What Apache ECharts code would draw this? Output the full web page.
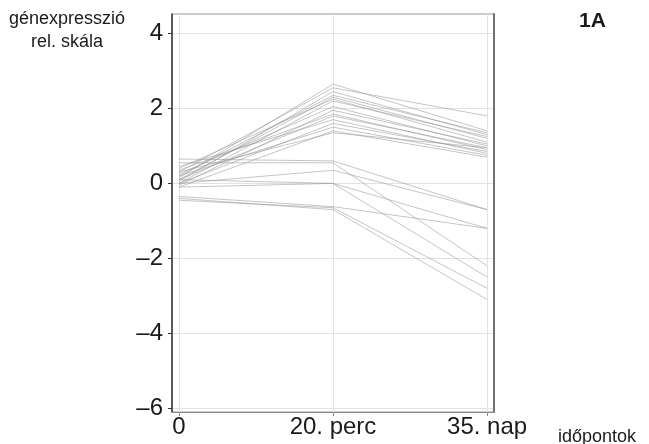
<!DOCTYPE html>
<html>
<head>
<meta charset="utf-8">
<script src="https://cdn.jsdelivr.net/npm/echarts@6/dist/echarts.min.js"></script>
<style>
  html, body { margin: 0; padding: 0; background: #fff; }
  #chart { width: 649px; height: 444px; }
</style>
</head>
<body>
<div id="chart"></div>
<script>
// időpontok (x categories)
const categories = ['0', '20. perc', '35. nap'];

// y tick labels
const yTicks = [-6, -4, -2, 0, 2, 4];

// génexpresszió per gene at each time point (one entry per line)
const expr0 = [
  0.15, 0.30, 0.05, 0.20, 0.10, 0.40, 0.00, 0.25,
  -0.05, 0.35, 0.10, 0.45, 0.00, 0.20, -0.10, 0.30,
  0.65, 0.55, 0.00, -0.10, 0.10, -0.35, -0.45, -0.40
];
const expr20perc = [
  2.65, 2.55, 2.45, 2.35, 2.30, 2.25, 2.20, 2.05,
  1.95, 1.85, 1.80, 1.70, 1.60, 1.50, 1.40, 1.35,
  0.60, 0.55, 0.35, 0.00, 0.00, -0.62, -0.65, -0.70
];
const expr35nap = [
  1.40, 1.80, 1.30, 1.35, 1.20, 1.10, 1.25, 1.00,
  1.05, 0.90, 0.95, 0.80, 0.85, 0.75, 0.70, 0.95,
  -0.70, -2.20, -0.70, -1.20, -2.50, -1.20, -2.80, -3.10
];

const series = expr0.map((v, i) => ({
  type: 'line',
  data: [[0, v], [1, expr20perc[i]], [2, expr35nap[i]]],
  showSymbol: false,
  silent: true,
  lineStyle: { color: 'rgba(150,150,150,0.55)', width: 1 }
}));

const chart = echarts.init(document.getElementById('chart'));

const labelFont = 'Liberation Sans, Arial, sans-serif';

chart.setOption({
  animation: false,
  grid: {
    left: 172, right: 155, top: 14, bottom: 32,
    show: true, borderColor: '#9a9a9a', borderWidth: 1
  },
  xAxis: {
    type: 'value',
    min: -0.045,
    max: 2.045,
    axisLine: { show: true, onZero: false, lineStyle: { color: '#8a8a8a', width: 1 } },
    axisTick: { show: true, length: 4, customValues: [0, 1, 2], lineStyle: { color: '#8a8a8a' } },
    axisLabel: {
      customValues: [0, 1, 2],
      formatter: v => categories[Math.round(v)],
      color: '#1a1a1a', fontSize: 24, fontFamily: labelFont, margin: 3
    },
    splitLine: { show: true, lineStyle: { color: '#e2e2e2', width: 1 } }
  },
  yAxis: [
    {
      type: 'value',
      min: -6.1,
      max: 4.52,
      axisLine: { show: true, onZero: false, lineStyle: { color: '#333', width: 1.5 } },
      axisTick: { show: true, length: 4, customValues: yTicks, lineStyle: { color: '#333' } },
      axisLabel: {
        customValues: yTicks,
        formatter: v => String(v).replace('-', '\u2013'),
        color: '#1a1a1a', fontSize: 24, fontFamily: labelFont, margin: 9
      },
      splitLine: { show: true, lineStyle: { color: '#e2e2e2', width: 1 } }
    },
    {
      type: 'value',
      position: 'right',
      min: -6.1,
      max: 4.52,
      axisLine: { show: true, onZero: false, lineStyle: { color: '#707070', width: 2 } },
      axisTick: { show: false },
      axisLabel: { show: false },
      splitLine: { show: false }
    }
  ],
  series: series,
  graphic: [
    { type: 'text', left: 9, top: 10, style: { text: 'génexpresszió', fontSize: 18, fontFamily: labelFont, fill: '#1a1a1a' } },
    { type: 'text', left: 31, top: 33, style: { text: 'rel. skála', fontSize: 18, fontFamily: labelFont, fill: '#1a1a1a' } },
    { type: 'text', left: 579, top: 11, style: { text: '1A', fontSize: 21, fontWeight: 'bold', fontFamily: labelFont, fill: '#1a1a1a' } },
    { type: 'text', left: 558, top: 428, style: { text: 'időpontok', fontSize: 18, fontFamily: labelFont, fill: '#1a1a1a' } }
  ]
});
</script>
</body>
</html>
